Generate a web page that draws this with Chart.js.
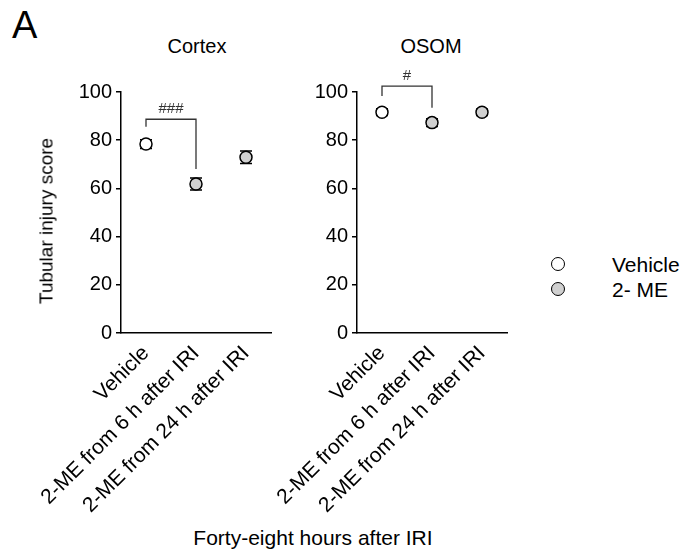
<!DOCTYPE html>
<html><head><meta charset="utf-8">
<script src="https://cdn.jsdelivr.net/npm/chart.js@4"></script>
<style>
body{margin:0;width:682px;height:553px;position:relative;background:#fff;font-family:"Liberation Sans",Arial,sans-serif;overflow:hidden}
.box{position:absolute}
.t{position:absolute;color:#000;white-space:nowrap;line-height:1}
.c{transform:translate(-50%,-50%)}
.r{transform:translate(-50%,-50%) rotate(-90deg);will-change:transform;-webkit-font-smoothing:antialiased}
.dot{position:absolute;width:14px;height:14px;border:1.5px solid #000;border-radius:50%;box-sizing:border-box;transform:translate(-50%,-50%)}
</style></head><body>
<div class="t" style="left:12px;top:6px;font-size:38px">A</div>
<div class="t c" style="left:197px;top:46px;font-size:20px">Cortex</div>
<div class="t c" style="left:431px;top:46px;font-size:20px">OSOM</div>
<div class="t r" style="left:46px;top:221px;font-size:19px">Tubular injury score</div>
<div class="t c" style="left:313px;top:537px;font-size:21px">Forty-eight hours after IRI</div>
<div class="dot" style="left:558px;top:264px;background:#fff"></div>
<div class="dot" style="left:558px;top:289px;background:#d0d0d0"></div>
<div class="t" style="left:612px;top:254px;font-size:21px">Vehicle</div>
<div class="t" style="left:612px;top:279px;font-size:21px">2- ME</div>
<div class="box" style="left:0;top:0;width:290px;height:553px"><canvas id="c1" width="290" height="553"></canvas></div>
<div class="box" style="left:240px;top:0;width:280px;height:553px"><canvas id="c2" width="280" height="553"></canvas></div>
<script>
const categories = ['Vehicle', '2-ME from 6 h after IRI', '2-ME from 24 h after IRI'];
const cortexMean = [78.4, 61.8, 72.9];
const cortexSem = [1.8, 2.5, 2.6];
const osomMean = [91.6, 87.3, 91.6];
const osomSem = [1.4, 1.6, 1.3];
const yTicks = [0, 20, 40, 60, 80, 100];
// bracket: [left foot, top, right foot] in score units
const cortexBracket = [85.6, 88.7, 68.0];
const osomBracket = [98.3, 102.4, 93.5];
const cortexSig = '###';
const osomSig = '#';

const FONT = '"Liberation Sans", Arial, sans-serif';

const errPlugin = {
  id: 'err',
  beforeDatasetsDraw(chart) {
    const {ctx, scales: {x, y}} = chart;
    const sem = chart.options.plugins.err.sem;
    ctx.save();
    ctx.strokeStyle = '#000';
    ctx.lineWidth = 1.5;
    chart.data.datasets.forEach(ds => {
      ds.data.forEach((v, i) => {
        if (v === null) return;
        const px = x.getPixelForValue(i);
        const yt = y.getPixelForValue(v + sem[i]);
        const yb = y.getPixelForValue(v - sem[i]);
        ctx.beginPath();
        ctx.moveTo(px, yt); ctx.lineTo(px, yb);
        ctx.moveTo(px - 6, yt); ctx.lineTo(px + 6, yt);
        ctx.moveTo(px - 6, yb); ctx.lineTo(px + 6, yb);
        ctx.stroke();
      });
    });
    ctx.restore();
  }
};

const bracketPlugin = {
  id: 'bracket',
  afterDraw(chart) {
    const {ctx, scales: {x, y}} = chart;
    const o = chart.options.plugins.bracket;
    const b = o.levels;
    const x0 = x.getPixelForValue(0), x1 = x.getPixelForValue(1);
    ctx.save();
    ctx.strokeStyle = '#333';
    ctx.lineWidth = 1.3;
    ctx.beginPath();
    ctx.moveTo(x0, y.getPixelForValue(b[0]));
    ctx.lineTo(x0, y.getPixelForValue(b[1]));
    ctx.lineTo(x1, y.getPixelForValue(b[1]));
    ctx.lineTo(x1, y.getPixelForValue(b[2]));
    ctx.stroke();
    ctx.fillStyle = '#333';
    ctx.font = '15px ' + FONT;
    ctx.textAlign = 'center';
    ctx.textBaseline = 'middle';
    ctx.fillText(o.text, (x0 + x1) / 2, y.getPixelForValue(b[1]) - 10);
    ctx.restore();
  }
};

function makeChart(id, mean, sem, bracket, sig, opt) {
  return new Chart(document.getElementById(id), {
    type: 'line',
    data: {
      labels: categories,
      datasets: [
        {label: 'Vehicle', data: mean.map((v, i) => i === 0 ? v : null), showLine: false,
         pointRadius: 6, pointBorderWidth: 1.5, pointBorderColor: '#000', pointBackgroundColor: '#fff'},
        {label: '2- ME', data: mean.map((v, i) => i > 0 ? v : null), showLine: false,
         pointRadius: 6, pointBorderWidth: 1.5, pointBorderColor: '#000', pointBackgroundColor: '#d0d0d0'}
      ]
    },
    options: {
      responsive: false, animation: false,
      layout: {padding: opt.padding},
      plugins: {legend: {display: false}, tooltip: {enabled: false},
        err: {sem: sem}, bracket: {levels: bracket, text: sig}},
      scales: {
        x: {type: 'category', offset: true,
          grid: {display: false},
          border: {display: true, color: '#000', width: 1.5},
          ticks: {color: '#000', font: {size: 21, family: FONT}, minRotation: 45, maxRotation: 45, autoSkip: false, padding: 0},
          afterFit: s => { s.height = opt.xh; }},
        y: {min: 0, max: 100,
          afterBuildTicks: s => { s.ticks = yTicks.map(v => ({value: v})); },
          ticks: {color: '#000', font: {size: 20, family: FONT}, padding: 4},
          grid: {drawOnChartArea: false, drawTicks: true, tickLength: 5, color: '#000', lineWidth: 1.5},
          border: {display: true, color: '#000', width: 1.5},
          afterFit: s => { s.width = opt.yw; }}
      }
    },
    plugins: [errPlugin, bracketPlugin]
  });
}

makeChart('c1', cortexMean, cortexSem, cortexBracket, cortexSig,
  {padding: {left: 0, right: 19, top: 92, bottom: 0}, xh: 220, yw: 121});
makeChart('c2', osomMean, osomSem, osomBracket, osomSig,
  {padding: {left: 0, right: 13, top: 92, bottom: 0}, xh: 220, yw: 117});
</script>
</body></html>
